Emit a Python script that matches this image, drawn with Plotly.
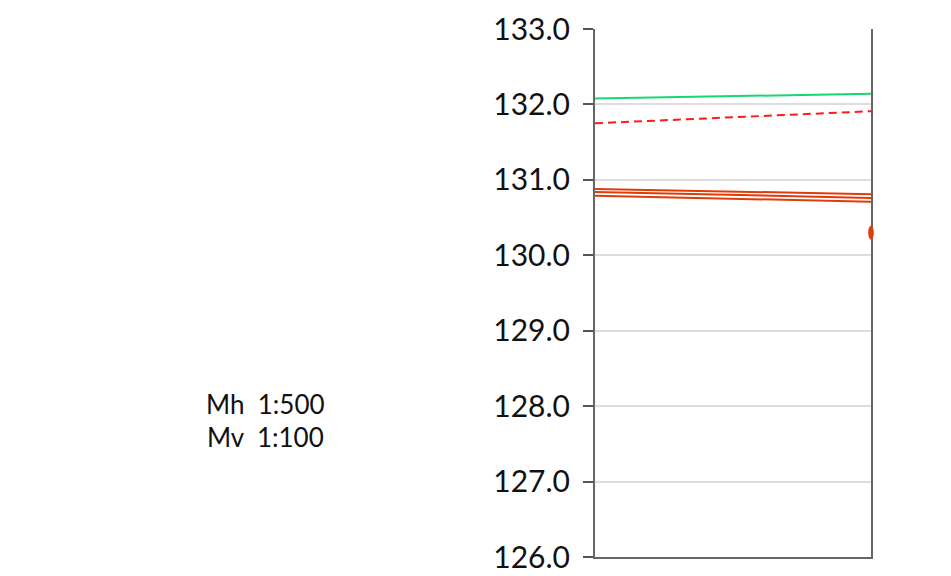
import plotly.graph_objects as go

# stations (relative, left edge and right edge of profile window)
stations = [0, 1]

# line elevations [left, right]
terrain_green = [132.08, 132.14]
design_red_dashed = [131.75, 131.91]
layer_a = [130.88, 130.81]
layer_b = [130.84, 130.76]
layer_c = [130.79, 130.71]

# point marker
point_station = [1]
point_elev = [130.30]

y_range = [126, 133]
y_ticks = [126, 127, 128, 129, 130, 131, 132, 133]
y_tick_labels = ["126.0", "127.0", "128.0", "129.0", "130.0", "131.0", "132.0", "133.0"]

scale_lines = ["Mh  1:500", "Mv  1:100"]

fig = go.Figure()

orange = "#e03c0a"
fig.add_trace(go.Scatter(x=stations, y=terrain_green, mode="lines",
                         line=dict(color="#14d870", width=2), showlegend=False))
fig.add_trace(go.Scatter(x=stations, y=design_red_dashed, mode="lines",
                         line=dict(color="#ff1a1a", width=2, dash="8px,5px"), showlegend=False))
for ly in (layer_a, layer_b, layer_c):
    fig.add_trace(go.Scatter(x=stations, y=ly, mode="lines",
                             line=dict(color=orange, width=2), showlegend=False))

# ellipse marker drawn unclipped (paper refs computed from the data values)
x_min, x_max = stations[0], stations[-1]
for xs, ys in zip(point_station, point_elev):
    px = (xs - x_min) / (x_max - x_min)
    py = (ys - y_range[0]) / (y_range[1] - y_range[0])
    fig.add_shape(type="circle", xref="paper", yref="paper", xsizemode="pixel", ysizemode="pixel",
                  xanchor=px, yanchor=py, x0=-2.8, x1=2.8, y0=-7, y1=7,
                  fillcolor=orange, line=dict(width=0), layer="above")

for i, t in enumerate(scale_lines):
    fig.add_annotation(xref="paper", yref="paper", x=-1.194, y=0.2907 - i * 0.0625, text=t,
                       showarrow=False, xanchor="center", yanchor="middle",
                       font=dict(size=26, color="#111", family="Lato"), align="center")

fig.update_layout(
    template="none",
    width=951, height=576,
    margin=dict(l=587, r=88, t=21, b=27),
    paper_bgcolor="white", plot_bgcolor="white",
    font=dict(family="Lato", color="#111"),
    xaxis=dict(range=[x_min, x_max], showgrid=False, zeroline=False, showticklabels=False,
               automargin=False,
               ticks="", showline=True, linecolor="#666", linewidth=2, mirror=False),
    yaxis=dict(range=y_range, tickvals=y_ticks, ticktext=y_tick_labels,
               automargin=False,
               showgrid=True, gridcolor="#dddddd", gridwidth=2, zeroline=False,
               ticks="outside", ticklen=10, tickwidth=2, tickcolor="#555",
               showline=True, linecolor="#666", linewidth=2, mirror=True,
               ticklabelstandoff=7, tickfont=dict(size=30, color="#111", family="Lato")),
)

fig.write_html("out.html")
